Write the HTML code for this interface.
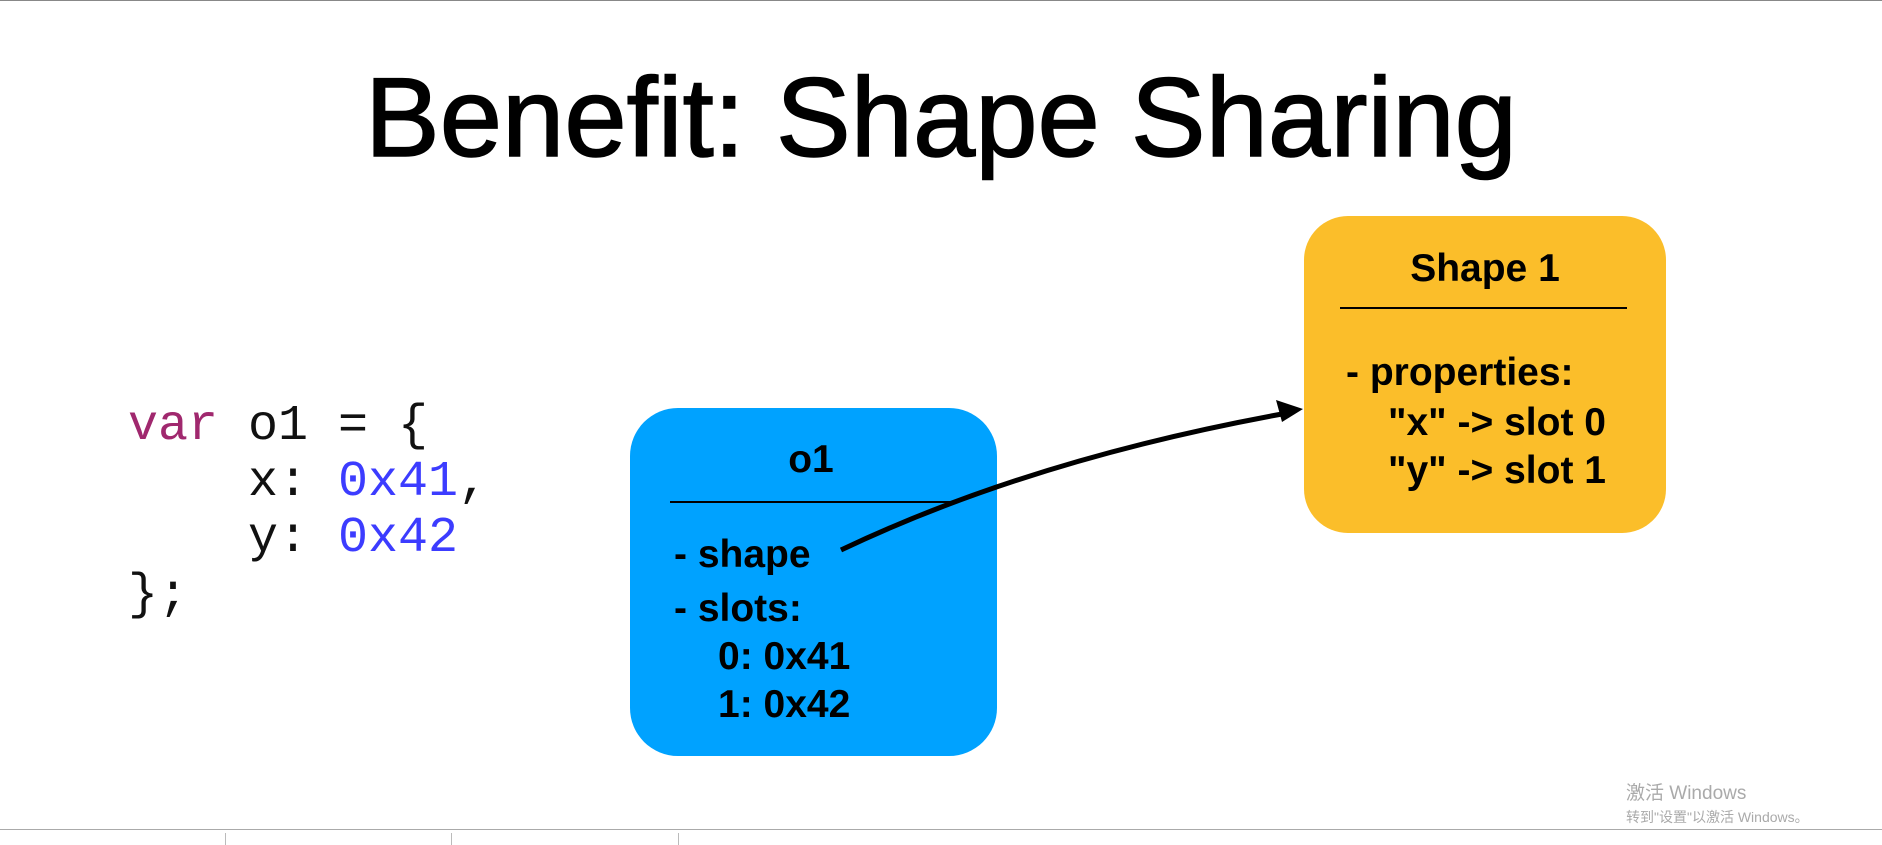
<!DOCTYPE html>
<html><head><meta charset="utf-8"><style>
html,body{margin:0;padding:0;background:#fff;}
body{width:1882px;height:845px;position:relative;overflow:hidden;font-family:"Liberation Sans",Arial,sans-serif;}
.t{position:absolute;white-space:pre;line-height:1;}
.b{font-weight:bold;font-size:39px;color:#000;}
.m{font-family:"Liberation Mono",monospace;font-size:50px;color:#111;}
</style></head><body>
<div style="position:absolute;left:0;top:0;width:1882px;height:1px;background:#888"></div>
<div class="t" style="left:0;width:1882px;text-align:center;top:62px;font-size:112px;-webkit-text-stroke:1.5px #000;">Benefit: Shape Sharing</div>

<div class="t m" style="left:128px;top:402px"><span style="color:#a0286e">var</span> o1 = {</div>
<div class="t m" style="left:128px;top:458px">    x: <span style="color:#3c3cff">0x41</span>,</div>
<div class="t m" style="left:128px;top:514px">    y: <span style="color:#3c3cff">0x42</span></div>
<div class="t m" style="left:128px;top:571px">};</div>

<div style="position:absolute;left:630px;top:408px;width:367px;height:348px;background:#00a2ff;border-radius:48px"></div>
<div style="position:absolute;left:670px;top:501px;width:284px;height:2px;background:#000"></div>
<div class="t b" style="left:630px;width:362px;text-align:center;top:440px">o1</div>
<div class="t b" style="left:674px;top:535px">- shape</div>
<div class="t b" style="left:674px;top:589px">- slots:</div>
<div class="t b" style="left:718px;top:637px">0: 0x41</div>
<div class="t b" style="left:718px;top:685px">1: 0x42</div>

<div style="position:absolute;left:1304px;top:216px;width:362px;height:317px;background:#fbbe2a;border-radius:44px"></div>
<div style="position:absolute;left:1340px;top:307px;width:287px;height:2px;background:#000"></div>
<div class="t b" style="left:1304px;width:362px;text-align:center;top:249px">Shape 1</div>
<div class="t b" style="left:1346px;top:353px">- properties:</div>
<div class="t b" style="left:1388px;top:403px">"x" -&gt; slot 0</div>
<div class="t b" style="left:1388px;top:451px">"y" -&gt; slot 1</div>

<svg width="1882" height="845" style="position:absolute;left:0;top:0">
<path d="M841 550 Q1030 460 1282 414" stroke="#000" stroke-width="5" fill="none"/>
<polygon points="1303,409 1276,400 1282,422" fill="#000"/>
</svg>

<div style="position:absolute;left:0;top:829px;width:1882px;height:1px;background:#aaa"></div>
<div style="position:absolute;left:225px;top:833px;width:1px;height:12px;background:#bbb"></div>
<div style="position:absolute;left:451px;top:833px;width:1px;height:12px;background:#bbb"></div>
<div style="position:absolute;left:678px;top:833px;width:1px;height:12px;background:#bbb"></div>
<div class="t" style="left:1626px;top:784px;font-size:19px;color:#aaa;font-family:'Liberation Sans','Noto Sans CJK SC',sans-serif">激活 Windows</div>
<div class="t" style="left:1626px;top:810px;font-size:14px;color:#aaa;font-family:'Liberation Sans','Noto Sans CJK SC',sans-serif">转到"设置"以激活 Windows。</div>
</body></html>
